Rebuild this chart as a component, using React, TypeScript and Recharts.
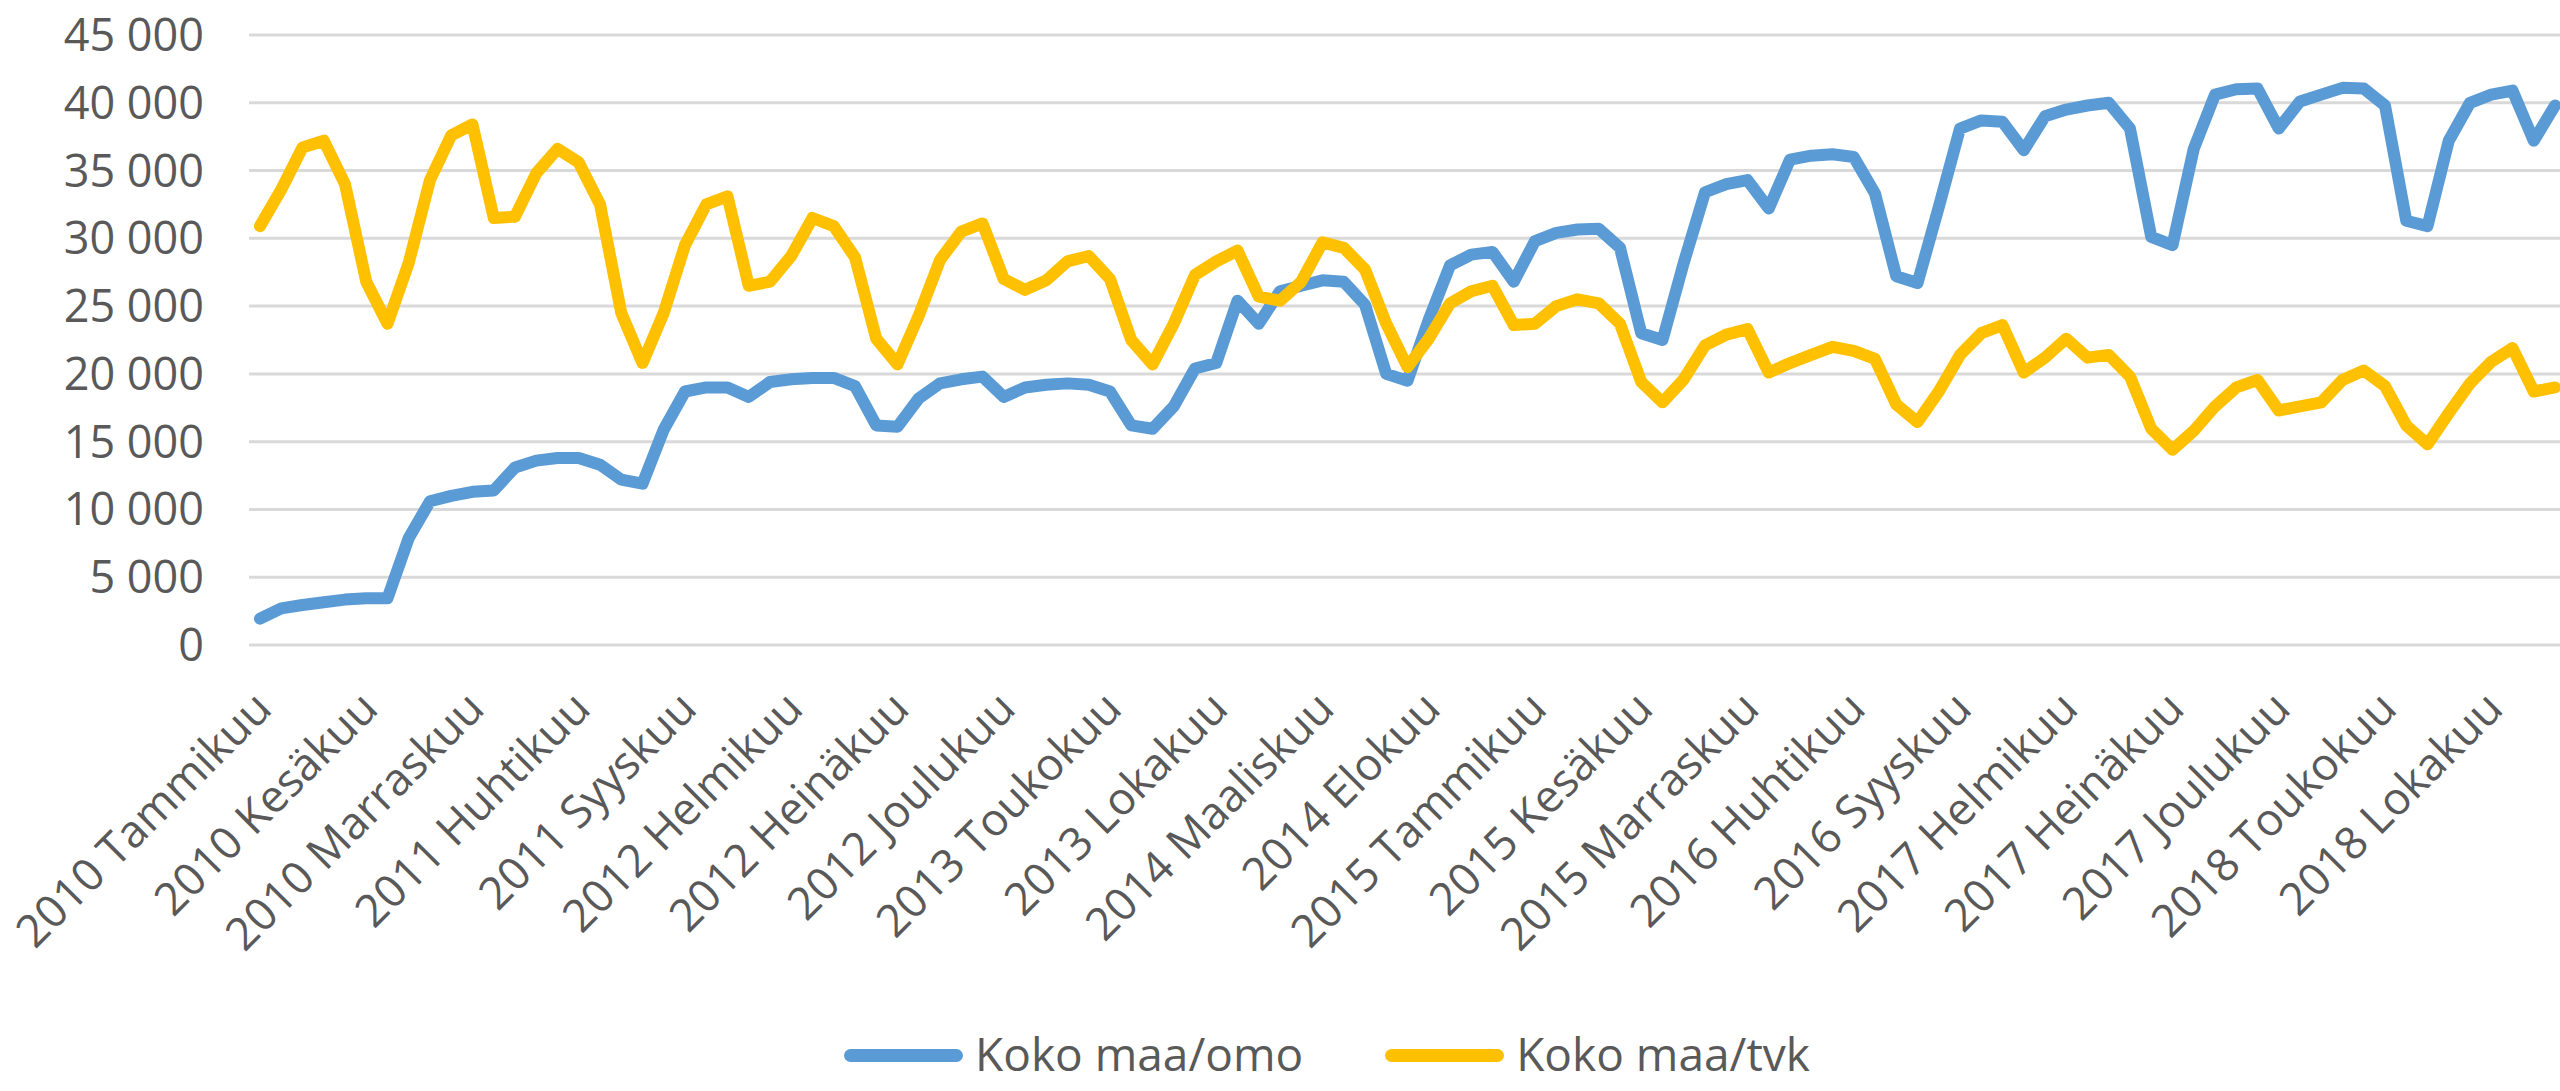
import React from "react";
import { LineChart, Line, XAxis, YAxis, CartesianGrid, Legend } from "recharts";

// kuukausittaiset arvot, tammikuu 2010 - tammikuu 2019
const years = [2010, 2011, 2012, 2013, 2014, 2015, 2016, 2017, 2018, 2019];
const months = [
  "Tammikuu", "Helmikuu", "Maaliskuu", "Huhtikuu", "Toukokuu", "Kesäkuu",
  "Heinäkuu", "Elokuu", "Syyskuu", "Lokakuu", "Marraskuu", "Joulukuu",
];

const omo = [
  1940, 2700, 2950, 3150, 3350, 3450, 3450, 7900, 10600, 11000, 11300, 11400,
  13100, 13600, 13800, 13800, 13300, 12200, 11900, 15900, 18700, 19000, 19000, 18300,
  19400, 19600, 19700, 19700, 19100, 16200, 16100, 18200, 19300, 19600, 19800, 18300,
  19000, 19200, 19300, 19200, 18700, 16200, 15950, 17600, 20400, 20800, 25400, 23700,
  26100, 26500, 26900, 26800, 25100, 20000, 19500, 24000, 28000, 28800, 29000, 26800,
  29800, 30400, 30650, 30700, 29300, 23000, 22500, 28200, 33400, 34000, 34300, 32200,
  35800, 36100, 36200, 36000, 33300, 27200, 26700, 32300, 38100, 38700, 38600, 36500,
  39000, 39500, 39800, 40000, 38100, 30100, 29500, 36600, 40600, 41000, 41050, 38100,
  40100, 40600, 41100, 41050, 39800, 31300, 30900, 37200, 40000, 40600, 40900, 37200,
  39800,
];

const tvk = [
  30900, 33600, 36700, 37200, 34000, 26800, 23700, 28200, 34300, 37600, 38400, 31500,
  31600, 34800, 36600, 35600, 32500, 24500, 20800, 24500, 29500, 32500, 33100, 26500,
  26800, 28700, 31500, 30900, 28600, 22600, 20700, 24300, 28400, 30500, 31100, 27000,
  26200, 26900, 28300, 28700, 27000, 22500, 20700, 23700, 27300, 28300, 29100, 25700,
  25400, 26800, 29700, 29300, 27700, 23700, 20500, 22600, 25200, 26100, 26500, 23600,
  23700, 25000, 25500, 25200, 23700, 19400, 17900, 19600, 22100, 22900, 23300, 20100,
  20800, 21400, 22000, 21700, 21100, 17750, 16450, 18700, 21400, 23000, 23600, 20100,
  21200, 22600, 21200, 21400, 19800, 15950, 14400, 15800, 17600, 19000, 19550, 17300,
  17600, 17900, 19550, 20250, 19100, 16200, 14800, 17100, 19300, 20900, 21900, 18700,
  19000,
];

const yTicks = [0, 5000, 10000, 15000, 20000, 25000, 30000, 35000, 40000, 45000];

const data = omo.map((v, i) => ({
  label: `${years[Math.floor(i / 12)]} ${months[i % 12]}`,
  omo: v,
  tvk: tvk[i],
}));

const font = "'Open Sans', sans-serif";
const textColor = "#595959";

const fmt = (v: number) => String(v).replace(/\B(?=(\d{3})+(?!\d))/g, "\u00a0");

const MonthTick = ({ x, y, payload }: any) => {
  const ax = x + 14;
  const ay = y + 64;
  return (
    <text
      x={ax}
      y={ay}
      transform={`rotate(-45, ${ax}, ${ay})`}
      textAnchor="end"
      fill={textColor}
      fontSize={45}
      fontFamily={font}
    >
      {payload.value}
    </text>
  );
};

const LegendContent = ({ payload }: any) => (
  <div
    style={{
      display: "flex",
      justifyContent: "center",
      alignItems: "center",
      gap: 82,
      height: 76,
      lineHeight: "46px",
      fontFamily: font,
      fontSize: 46,
      color: textColor,
    }}
  >
    {(payload || []).map((p: any) => (
      <div key={p.value} style={{ display: "flex", alignItems: "center" }}>
        <span
          style={{
            display: "inline-block",
            width: 119,
            height: 13,
            borderRadius: 7,
            background: p.color,
            marginRight: 12,
            marginTop: 4,
          }}
        />
        <span>{p.value}</span>
      </div>
    ))}
  </div>
);

export default function App() {
  return (
    <div
      style={{
        position: "absolute",
        left: 0,
        top: 0,
        width: 2560,
        height: 1091,
        overflow: "hidden",
        background: "#fff",
      }}
    >
      <LineChart
        width={2600}
        height={1091}
        data={data}
        margin={{ top: 35, right: 34, bottom: 0, left: 0 }}
      >
        <CartesianGrid horizontal vertical={false} stroke="#d9d9d9" strokeWidth={3} />
        <XAxis
          dataKey="label"
          interval={4}
          height={370}
          padding={{ left: 11, right: 11 }}
          axisLine={false}
          tickLine={false}
          tickSize={0}
          tick={<MonthTick />}
        />
        <YAxis
          width={249}
          domain={[0, 45000]}
          ticks={yTicks}
          axisLine={false}
          tickLine={false}
          tickSize={0}
          tickMargin={45}
          tickFormatter={fmt}
          tick={{ fill: textColor, fontSize: 45, fontFamily: font }}
        />
        <Legend
          verticalAlign="bottom"
          content={<LegendContent />}
          wrapperStyle={{ left: 0, width: 2654 }}
        />
        <Line
          type="linear"
          dataKey="omo"
          name="Koko maa/omo"
          stroke="#5b9bd5"
          strokeWidth={12}
          strokeLinejoin="round"
          strokeLinecap="round"
          dot={false}
          isAnimationActive={false}
        />
        <Line
          type="linear"
          dataKey="tvk"
          name="Koko maa/tvk"
          stroke="#ffc000"
          strokeWidth={12}
          strokeLinejoin="round"
          strokeLinecap="round"
          dot={false}
          isAnimationActive={false}
        />
      </LineChart>
    </div>
  );
}
